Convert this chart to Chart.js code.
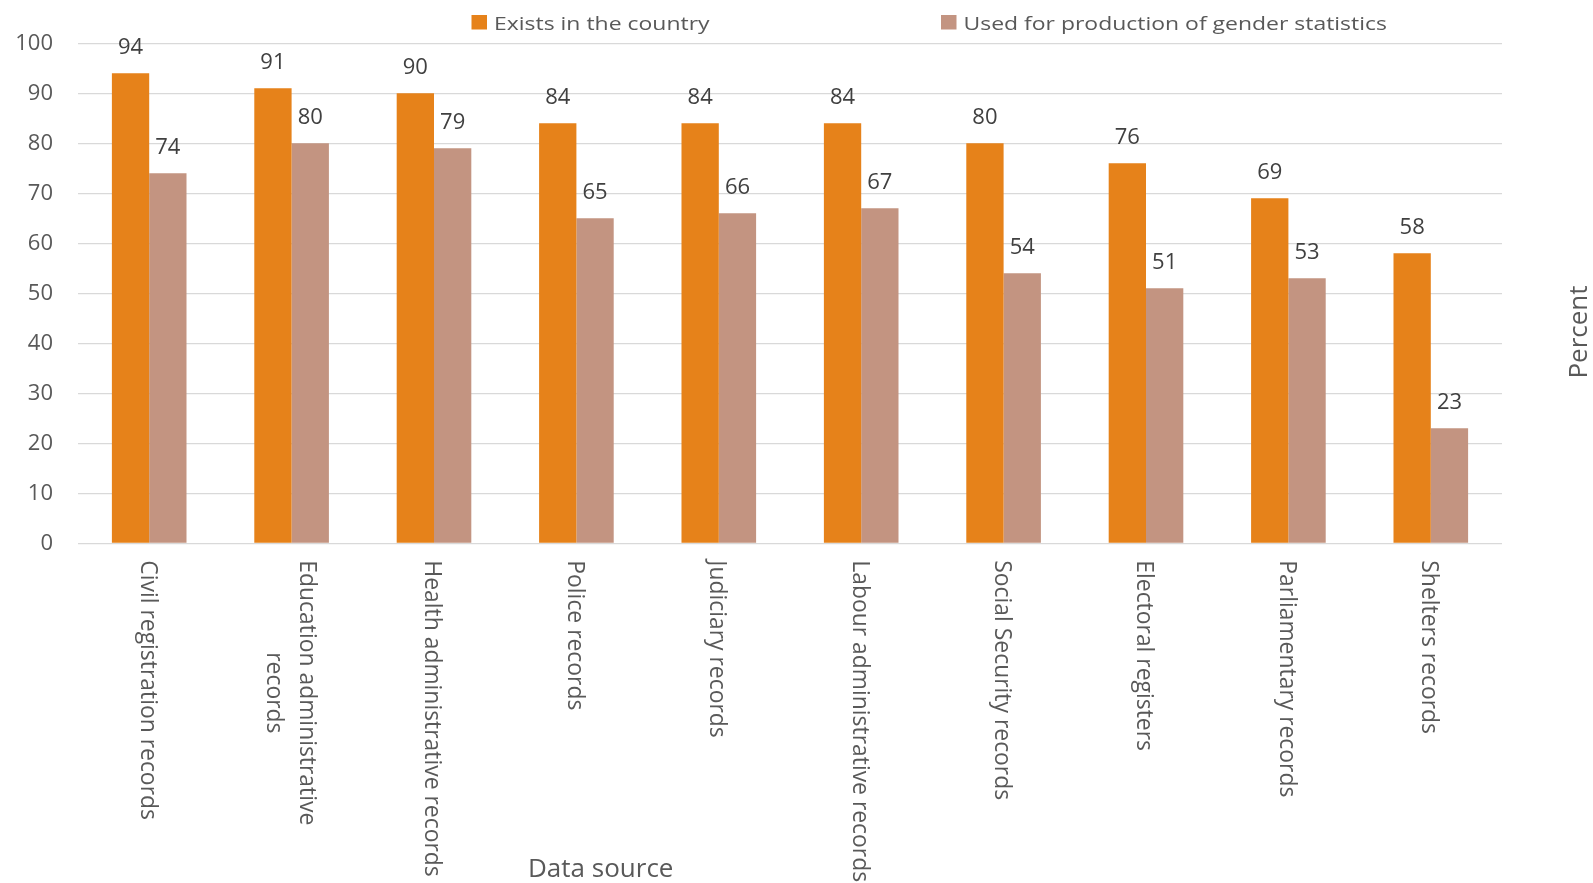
<!DOCTYPE html>
<html>
<head>
<meta charset="utf-8">
<script src="https://cdn.jsdelivr.net/npm/chart.js@4.4.1/dist/chart.umd.min.js"></script>
<style>
  html, body { margin: 0; padding: 0; background: #ffffff; }
  #wrap { width: 1593px; height: 883px; position: relative; }
</style>
</head>
<body>
<div id="wrap"><canvas id="chart"></canvas></div>
<script>
// ---- data ----
const categories = [
  ["Civil registration records"],
  ["Education administrative", "records"],
  ["Health administrative records"],
  ["Police records"],
  ["Judiciary records"],
  ["Labour administrative records"],
  ["Social Security records"],
  ["Electoral registers"],
  ["Parliamentary records"],
  ["Shelters records"]
];
const seriesNames = ["Exists in the country", "Used for production of gender statistics"];
const existsValues = [94, 91, 90, 84, 84, 84, 80, 76, 69, 58];
const usedValues   = [74, 80, 79, 65, 66, 67, 54, 51, 53, 23];
const yTickMin = 0, yTickMax = 100, yTickStep = 10;
const xAxisTitle = "Data source";
const yAxisTitle = "Percent";

// ---- style ----
const FONT = "'Open Sans', sans-serif";
const seriesColors = ["#E6821A", "#C39481"];
const textGrey = "#595959";
const labelDark = "#404040";

Chart.defaults.font.family = FONT;

const customText = {
  id: 'customText',
  afterDatasetsDraw(chart) {
    const ctx = chart.ctx;
    const area = chart.chartArea;
    ctx.save();

    // value labels above bars
    ctx.font = `22px ${FONT}`;
    ctx.fillStyle = labelDark;
    ctx.textAlign = 'center';
    ctx.textBaseline = 'alphabetic';
    chart.data.datasets.forEach((ds, di) => {
      chart.getDatasetMeta(di).data.forEach((bar, i) => {
        ctx.fillText(String(ds.data[i]), bar.x, bar.y - 19.5);
      });
    });

    // category labels, rotated +90 (read top to bottom)
    const xs = chart.scales.x;
    ctx.font = `22.9px ${FONT}`;
    ctx.fillStyle = textGrey;
    const lineH = 33;
    chart.data.labels.forEach((lab, i) => {
      const lines = Array.isArray(lab) ? lab : [lab];
      const maxW = Math.max(...lines.map(l => ctx.measureText(l).width));
      const cx = xs.getPixelForValue(i);
      ctx.save();
      ctx.translate(cx, area.bottom + 17 + maxW / 2);
      ctx.rotate(Math.PI / 2);
      ctx.textAlign = 'center';
      ctx.textBaseline = 'middle';
      lines.forEach((l, k) => {
        const off = (k - (lines.length - 1) / 2) * lineH + 2;
        ctx.fillText(l, 0, off);
      });
      ctx.restore();
    });

    // x axis title
    ctx.font = `26px ${FONT}`;
    ctx.fillStyle = textGrey;
    ctx.textAlign = 'left';
    ctx.textBaseline = 'alphabetic';
    ctx.fillText(xAxisTitle, 528, 877);

    // y axis title on the right, rotated -90
    ctx.save();
    ctx.translate(1587, 332);
    ctx.rotate(-Math.PI / 2);
    ctx.textAlign = 'center';
    ctx.textBaseline = 'alphabetic';
    ctx.fillText(yAxisTitle, 0, 0);
    ctx.restore();

    // legend
    const legendX = [471.5, 941];
    chart.data.datasets.forEach((ds, di) => {
      const x = legendX[di];
      ctx.fillStyle = ds.backgroundColor;
      ctx.fillRect(x, 15, 15.5, 14.5);
      ctx.save();
      ctx.translate(x + 22.5, 29.5);
      ctx.scale(1.275, 1.05);
      ctx.font = `18px ${FONT}`;
      ctx.fillStyle = textGrey;
      ctx.textAlign = 'left';
      ctx.textBaseline = 'alphabetic';
      ctx.fillText(ds.label, 0, 0);
      ctx.restore();
    });

    ctx.restore();
  }
};

new Chart(document.getElementById('chart'), {
  type: 'bar',
  data: {
    labels: categories,
    datasets: [
      { label: seriesNames[0], data: existsValues, backgroundColor: seriesColors[0],
        categoryPercentage: 0.524, barPercentage: 1.0 },
      { label: seriesNames[1], data: usedValues, backgroundColor: seriesColors[1],
        categoryPercentage: 0.524, barPercentage: 1.0 }
    ]
  },
  options: {
    responsive: true,
    maintainAspectRatio: false,
    animation: false,
    layout: { padding: { left: 15, right: 91, top: 43.3, bottom: 339.7 } },
    plugins: {
      legend: { display: false },
      tooltip: { enabled: false }
    },
    scales: {
      x: {
        grid: { display: false, drawTicks: false },
        border: { display: false },
        ticks: { display: false }
      },
      y: {
        min: yTickMin,
        max: yTickMax,
        ticks: { stepSize: yTickStep, padding: 25, color: textGrey, font: { size: 22 } },
        grid: { color: '#D9D9D9', lineWidth: 1.3, drawTicks: false },
        border: { display: false },
        afterFit(scale) { scale.width = 63; }
      }
    }
  },
  plugins: [customText]
});
</script>
</body>
</html>
